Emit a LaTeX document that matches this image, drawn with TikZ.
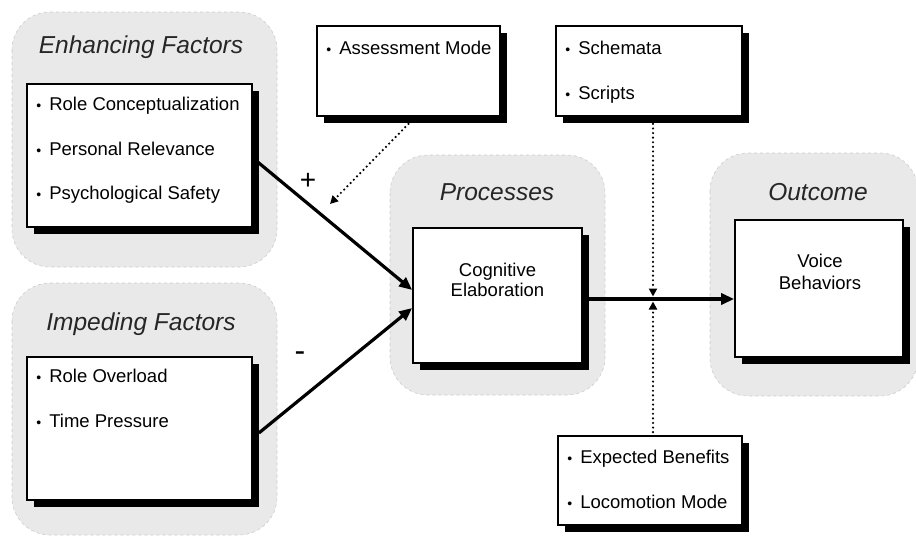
\documentclass[tikz,border=0pt]{standalone}
\usepackage{fontspec}
\setmainfont{Liberation Sans}
\usetikzlibrary{arrows.meta,calc,shadows}
\newcommand\bu{\makebox[13pt][l]{\fontsize{14}{14}\selectfont\textbullet}}
\begin{document}
\begin{tikzpicture}[x=1pt,y=-1pt,
  group/.style={fill=gray!17, draw=gray!40, dashed, line width=0.6pt, rounded corners=38pt},
  title/.style={font=\fontsize{24.5}{28}\selectfont\itshape, anchor=base, text=black!85, inner sep=0pt},
  box/.style={draw=black, fill=white, line width=1.7pt, inner sep=0pt,
    general shadow={fill=black, shadow xshift=6.5pt, shadow yshift=-6.5pt}},
  items/.style={anchor=north west, align=left, inner sep=0pt, font=\fontsize{18.5}{44.5}\selectfont},
  ctext/.style={anchor=north, align=center, inner sep=0pt},
  sign/.style={inner sep=0pt},
  mainarrow/.style={line width=3.2pt, -{Triangle[length=13pt,width=11pt]}},
  modarrow/.style={line width=2.4pt, dash pattern=on 0pt off 4.6pt, line cap=round,
    -{Triangle[length=8pt,width=8pt,line cap=butt]}},
]
\useasboundingbox (0,0) rectangle (916,538);

% containers
\path[group] (12,12) rectangle (277,267);
\path[group] (12,283) rectangle (277,535);
\path[group] (390,155) rectangle (605,395);
\path[group] (710,153) rectangle (918,396);

\node[title] (tenh) at (141,53) {Enhancing Factors};
\node[title] (timp) at (141,330) {Impeding Factors};
\node[title] (tproc) at (497,200) {Processes};
\node[title] (tout) at (818,200) {Outcome};

% boxes
\node[box, minimum width=225pt, minimum height=143pt] (enh) at (139.5,155.5) {};
\node[box, minimum width=225pt, minimum height=143pt] (imp) at (139.5,428.5) {};
\node[box, minimum width=183pt, minimum height=90pt] (assess) at (408.5,71) {};
\node[box, minimum width=186pt, minimum height=90pt] (schem) at (649,71) {};
\node[box, minimum width=169pt, minimum height=135pt] (cog) at (497.5,295.5) {};
\node[box, minimum width=168pt, minimum height=137pt] (voice) at (819,288.5) {};
\node[box, minimum width=184pt, minimum height=89pt] (exp) at (650,480.5) {};

% texts
\node[items] (tenhi) at ($(enh.north west)+(10,14)$)
  {\bu Role Conceptualization\\ \bu Personal Relevance\\ \bu Psychological Safety};
\node[items] (timpi) at ($(imp.north west)+(10,13)$)
  {\bu Role Overload\\ \bu Time Pressure};
\node[items] (tass) at ($(assess.north west)+(10,16)$) {\bu Assessment Mode};
\node[items] (tsch) at ($(schem.north west)+(10,16)$) {\bu Schemata\\ \bu Scripts};
\node[items] (texp) at ($(exp.north west)+(10,15)$) {\bu Expected Benefits\\ \bu Locomotion Mode};
\node[ctext, font=\fontsize{18.5}{20.5}\selectfont] (tcog) at ($(cog.north)+(0,35.5)$) {Cognitive\\Elaboration};
\node[ctext, font=\fontsize{18.5}{22}\selectfont] (tvoice) at ($(voice.north)+(1,34.5)$) {Voice\\Behaviors};

% signs
\node[sign, font=\fontsize{28}{28}\selectfont] (plus) at (308,181) {+};
\node[sign, font=\fontsize{32}{32}\selectfont] (minus) at (300,357) {-};

% connectors
\coordinate (mx) at (653,299);
\coordinate (mod1) at (330,204);
\draw[mainarrow] ($(enh.east)+(0,2.5)$) -- ($(cog.west)+(0,-5.5)$);
\draw[mainarrow] ($(imp.east)+(6,4.5)$) -- ($(cog.west)+(0,12.5)$);
\draw[mainarrow] ($(cog.east |- mx)+(6,0)$) -- (voice.west |- mx);
\draw[modarrow] ($(assess.south)+(0,7)$) -- (mod1);
\draw[modarrow] ($(schem.south -| mx)+(0,7)$) -- ($(mx)+(0,-2.5)$);
\draw[modarrow] ($(exp.north -| mx)+(0,-3)$) -- ($(mx)+(0,2.5)$);
\end{tikzpicture}
\end{document}
